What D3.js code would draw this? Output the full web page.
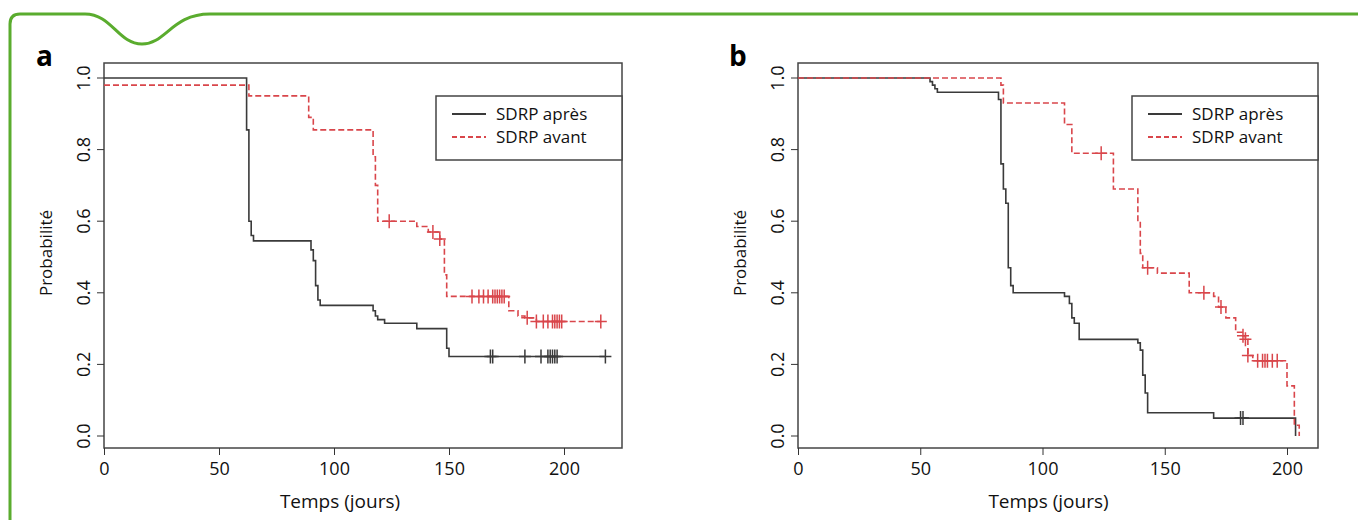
<!doctype html>
<html>
<head>
<meta charset="utf-8">
<script src="https://cdn.jsdelivr.net/npm/d3@7"></script>
<style>body{margin:0;background:#fff;font-family:"Open Sans",sans-serif;}</style>
</head>
<body>
<script>
// Kaplan-Meier steps: [time, survival] ; censors: times
var aApres = [[0,1],[62,0.855],[63,0.6],[64,0.56],[65,0.545],[90,0.52],[91,0.49],[92,0.42],[93,0.38],[94,0.365],[117,0.35],[118,0.335],[119,0.325],[122,0.315],[136,0.3],[149,0.245],[150,0.222],[218,0.222]];
var aApresCens = [168,169,183,190,193,194,195,196,197,218];
var aAvant = [[0,0.98],[63,0.95],[89,0.89],[91,0.855],[117,0.78],[118,0.7],[119,0.6],[136,0.585],[141,0.57],[146,0.55],[148,0.45],[149,0.39],[176,0.35],[180,0.335],[183,0.33],[188,0.32],[216,0.32]];
var aAvantCens = [124,143,146,160,163,165,167,169,170,171,172,173,174,184,188,191,193,195,196,197,198,199,216];
var bApres = [[0,1],[54,0.99],[55,0.98],[56,0.97],[57,0.96],[82,0.94],[83,0.76],[84,0.69],[85,0.65],[86,0.47],[87,0.42],[88,0.4],[109,0.39],[111,0.37],[112,0.33],[113,0.315],[115,0.27],[139,0.26],[140,0.24],[141,0.17],[142,0.12],[143,0.065],[170,0.05],[203,0.05],[203.5,0]];
var bApresCens = [181,182];
var bAvant = [[0,1],[83,0.98],[84,0.93],[109,0.87],[112,0.79],[129,0.69],[139,0.6],[140,0.51],[141,0.47],[147,0.455],[160,0.4],[170,0.39],[172,0.36],[175,0.33],[179,0.29],[182,0.28],[183,0.27],[184,0.225],[186,0.21],[200,0.14],[203,0.03],[205,0]];
var bAvantCens = [124,143,166,173,182,183,184,188,190,191,192,194,196];
var xTicks = [0,50,100,150,200];
var yTicks = [0,0.2,0.4,0.6,0.8,1.0];
var legendNames = ["SDRP après","SDRP avant"];

var W = 1358, H = 520;
var FONT = "'Liberation Sans Narrow','Open Sans',sans-serif";
var svg = d3.select("body").append("svg").attr("width", W).attr("height", H);

// green frame
svg.append("path")
  .attr("d","M10,520 L10,24 Q10,14 20,14 L85,14 C112,14 118,44 142,44 C166,44 172,14 210,14 L1358,14")
  .attr("fill","none").attr("stroke","#5aac2e").attr("stroke-width",3);

function valAt(steps, t){
  var v = steps[0][1];
  steps.forEach(function(s){ if (s[0] <= t) v = s[1]; });
  return v;
}

function panel(o){
  var x = d3.scaleLinear().domain([0,200]).range([o.x0, o.x200]);
  var y = d3.scaleLinear().domain([0,1]).range([436,78]);
  var g = svg.append("g");
  var dark = "#333";

  g.append("rect").attr("x",o.x0).attr("y",63).attr("width",o.right-o.x0).attr("height",448-63)
    .attr("fill","none").attr("stroke","#444").attr("stroke-width",1.5);

  var xa = g.append("g").attr("transform","translate(0,448)")
    .call(d3.axisBottom(x).tickValues(xTicks).tickSize(7).tickFormat(d3.format("d")));
  xa.select(".domain").remove();
  xa.selectAll("line").attr("stroke",dark);
  xa.selectAll("text").attr("font-size",18).attr("fill","#111").attr("dy","0.95em").attr("font-family",FONT);

  var ya = g.append("g").attr("transform","translate("+o.x0+",0)")
    .call(d3.axisLeft(y).tickValues(yTicks).tickSize(7).tickFormat(d3.format(".1f")));
  ya.select(".domain").remove();
  ya.selectAll("line").attr("stroke",dark);
  ya.selectAll(".tick").attr("transform",null);
  ya.selectAll(".tick line").attr("y1",function(d){return y(d);}).attr("y2",function(d){return y(d);});
  ya.selectAll("text").attr("font-size",18).attr("fill","#111").attr("font-family",FONT)
    .attr("transform", function(d){ return "translate(-14," + y(d) + ") rotate(-90)"; })
    .attr("x",0).attr("y",0).attr("dy","0em").attr("text-anchor","middle");

  var line = d3.line().curve(d3.curveStepAfter).x(function(d){return x(d[0]);}).y(function(d){return y(d[1]);});
  function draw(steps, cens, color, dash){
    g.append("path").datum(steps).attr("d",line).attr("fill","none")
      .attr("stroke",color).attr("stroke-width",1.6).attr("stroke-dasharray",dash);
    g.selectAll(null).data(cens).enter().append("path")
      .attr("d",function(t){ var cx=x(t), cy=y(valAt(steps,t));
        return "M"+(cx-6)+","+cy+"H"+(cx+6)+"M"+cx+","+(cy-7)+"V"+(cy+7); })
      .attr("stroke",color).attr("stroke-width",1.5);
  }
  draw(o.apres, o.apresCens, "#3a3a3a", null);
  draw(o.avant, o.avantCens, "#d9464b", "6,3");

  g.append("rect").attr("x",o.legX).attr("y",96).attr("width",o.right-o.legX).attr("height",64)
    .attr("fill","#fff").attr("stroke","#444").attr("stroke-width",1.5);
  [0,1].forEach(function(i){
    var ly = 114 + i*23;
    g.append("line").attr("x1",o.legX+16).attr("x2",o.legX+50).attr("y1",ly).attr("y2",ly)
      .attr("stroke", i ? "#d9464b" : "#3a3a3a").attr("stroke-width",1.8).attr("stroke-dasharray", i ? "5,3" : null);
    g.append("text").attr("x",o.legX+60).attr("y",ly+6).attr("font-size",17).attr("fill","#111")
      .attr("font-family",FONT).text(legendNames[i]);
  });

  g.append("text").attr("x",o.letterX).attr("y",66).attr("font-size",28).attr("font-weight","bold").text(o.letter);
  g.append("text").attr("transform","translate("+(o.x0-52)+",253) rotate(-90)").attr("text-anchor","middle")
    .attr("font-size",17).attr("fill","#111").text("Probabilité");
  g.append("text").attr("x",x(100)+6).attr("y",508).attr("text-anchor","middle")
    .attr("font-size",19).attr("fill","#111").attr("font-family",FONT).text("Temps (jours)");
}

panel({x0:104, x200:564, right:622, legX:436, letter:"a", letterX:36,
  apres:aApres, apresCens:aApresCens, avant:aAvant, avantCens:aAvantCens});
panel({x0:798, x200:1287, right:1318, legX:1132, letter:"b", letterX:729,
  apres:bApres, apresCens:bApresCens, avant:bAvant, avantCens:bAvantCens});
</script>
</body>
</html>
